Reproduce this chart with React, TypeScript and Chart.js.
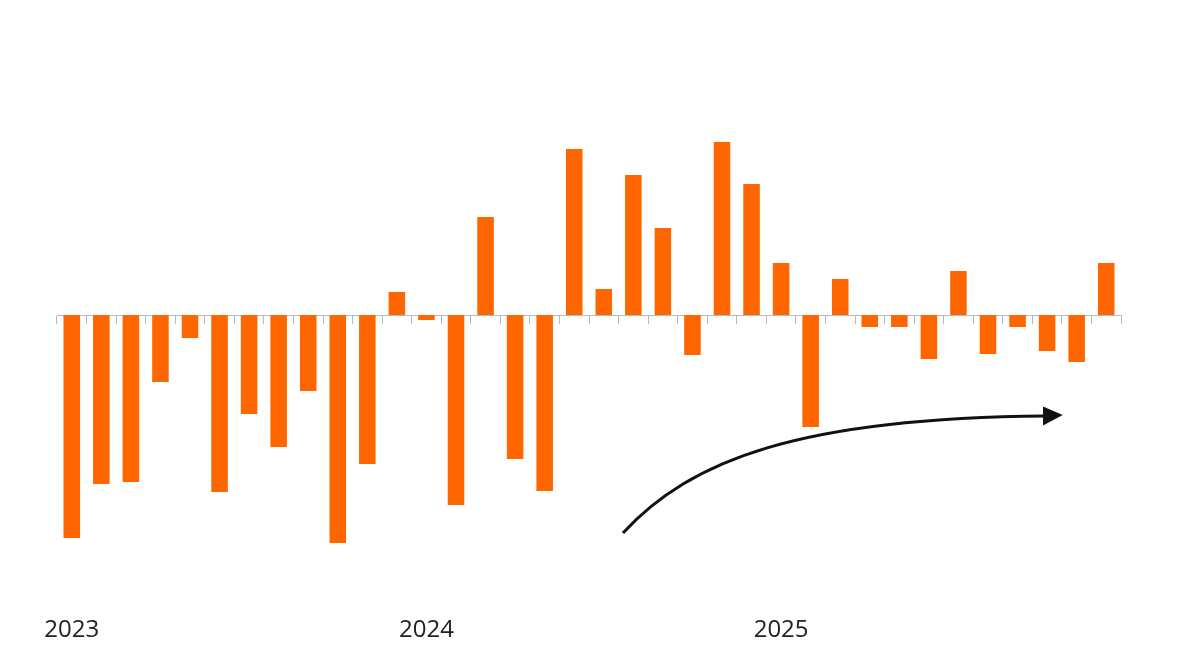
import React, { useEffect, useRef } from "react";
import { Chart, registerables } from "chart.js";

Chart.register(...registerables);

const months: string[] = [
  "2023-01", "2023-02", "2023-03", "2023-04", "2023-05", "2023-06",
  "2023-07", "2023-08", "2023-09", "2023-10", "2023-11", "2023-12",
  "2024-01", "2024-02", "2024-03", "2024-04", "2024-05", "2024-06",
  "2024-07", "2024-08", "2024-09", "2024-10", "2024-11", "2024-12",
  "2025-01", "2025-02", "2025-03", "2025-04", "2025-05", "2025-06",
  "2025-07", "2025-08", "2025-09", "2025-10", "2025-11", "2025-12",
];

const values: number[] = [
  -22.3, -16.9, -16.7, -6.7, -2.3, -17.7, -9.9, -13.2, -7.6, -22.8, -14.9, 2.3,
  -0.5, -19.0, 9.8, -14.4, -17.6, 16.6, 2.6, 14.0, 8.7, -4.0, 17.3, 13.1,
  5.2, -11.2, 3.6, -1.2, -1.2, -4.4, 4.4, -3.9, -1.2, -3.6, -4.7, 5.2,
];

const yearLabels: string[] = [
  "2023", "", "", "", "", "", "", "", "", "", "", "",
  "2024", "", "", "", "", "", "", "", "", "", "", "",
  "2025", "", "", "", "", "", "", "", "", "", "", "",
];

// Arrow annotation in data coordinates: [category index, value]
const arrowStart: [number, number] = [18.65, -21.8];
const arrowCp1: [number, number] = [20.91, -14.5];
const arrowCp2: [number, number] = [24.64, -10.3];
const arrowEnd: [number, number] = [32.86, -10.1];
const arrowTip: [number, number] = [33.53, -10.0];
const arrowHalfHeight = 0.95;

const arrowPlugin = {
  id: "trendArrow",
  afterDatasetsDraw(chart: any) {
    const x = chart.scales.x;
    const y = chart.scales.y;
    const px = (p: [number, number]) => [x.getPixelForValue(p[0]), y.getPixelForValue(p[1])];
    const [x0, y0] = px(arrowStart);
    const [x1, y1] = px(arrowCp1);
    const [x2, y2] = px(arrowCp2);
    const [x3, y3] = px(arrowEnd);
    const [xt, yt] = px(arrowTip);
    const yTop = y.getPixelForValue(arrowEnd[1] + arrowHalfHeight);
    const yBot = y.getPixelForValue(arrowEnd[1] - arrowHalfHeight);
    const ctx = chart.ctx;
    ctx.save();
    ctx.strokeStyle = "#111111";
    ctx.fillStyle = "#111111";
    ctx.lineWidth = 3;
    ctx.lineCap = "butt";
    ctx.beginPath();
    ctx.moveTo(x0, y0);
    ctx.bezierCurveTo(x1, y1, x2, y2, x3 + 2, y3);
    ctx.stroke();
    ctx.beginPath();
    ctx.moveTo(xt, yt);
    ctx.lineTo(x3, yTop);
    ctx.lineTo(x3, yBot);
    ctx.closePath();
    ctx.fill();
    ctx.restore();
  },
};

export default function App() {
  const ref = useRef<HTMLCanvasElement | null>(null);

  useEffect(() => {
    if (!ref.current) return;
    const chart = new Chart(ref.current, {
      type: "bar",
      data: {
        labels: months,
        datasets: [
          {
            data: values,
            backgroundColor: "#ff6600",
            borderWidth: 0,
            barPercentage: 0.56,
            categoryPercentage: 1.0,
            xAxisID: "x",
            yAxisID: "y",
          },
        ],
      },
      options: {
        animation: false,
        responsive: false,
        maintainAspectRatio: false,
        layout: { padding: { left: 57, right: 79, top: 115, bottom: 0 } },
        plugins: {
          legend: { display: false },
          tooltip: { enabled: false },
          title: { display: false },
        },
        scales: {
          x: {
            type: "category",
            position: { y: 0 } as any,
            offset: true,
            ticks: { display: false },
            grid: {
              display: true,
              drawOnChartArea: false,
              drawTicks: true,
              tickLength: 8,
              offset: true,
              color: "#b4b8bf",
              lineWidth: 1,
            },
            border: { display: true, color: "#b4b8bf", width: 1 },
          },
          x2: {
            type: "category",
            position: "bottom",
            labels: yearLabels,
            offset: true,
            grid: { display: false, drawTicks: false },
            border: { display: false },
            ticks: {
              autoSkip: false,
              maxRotation: 0,
              padding: 50.6,
              color: "#222222",
              font: { family: "'Open Sans', sans-serif", size: 24 },
            },
            afterFit: (scale: any) => {
              scale.height = 103;
              scale.paddingLeft = 0;
              scale.paddingRight = 0;
            },
          },
          y: {
            type: "linear",
            display: false,
            min: -25,
            max: 20,
          },
        },
      },
      plugins: [arrowPlugin],
    });
    return () => chart.destroy();
  }, []);

  return (
    <div style={{ position: "absolute", left: 0, top: 0, width: 1200, height: 668, background: "#ffffff" }}>
      <canvas ref={ref} width={1200} height={668} style={{ display: "block", width: 1200, height: 668 }} />
    </div>
  );
}
